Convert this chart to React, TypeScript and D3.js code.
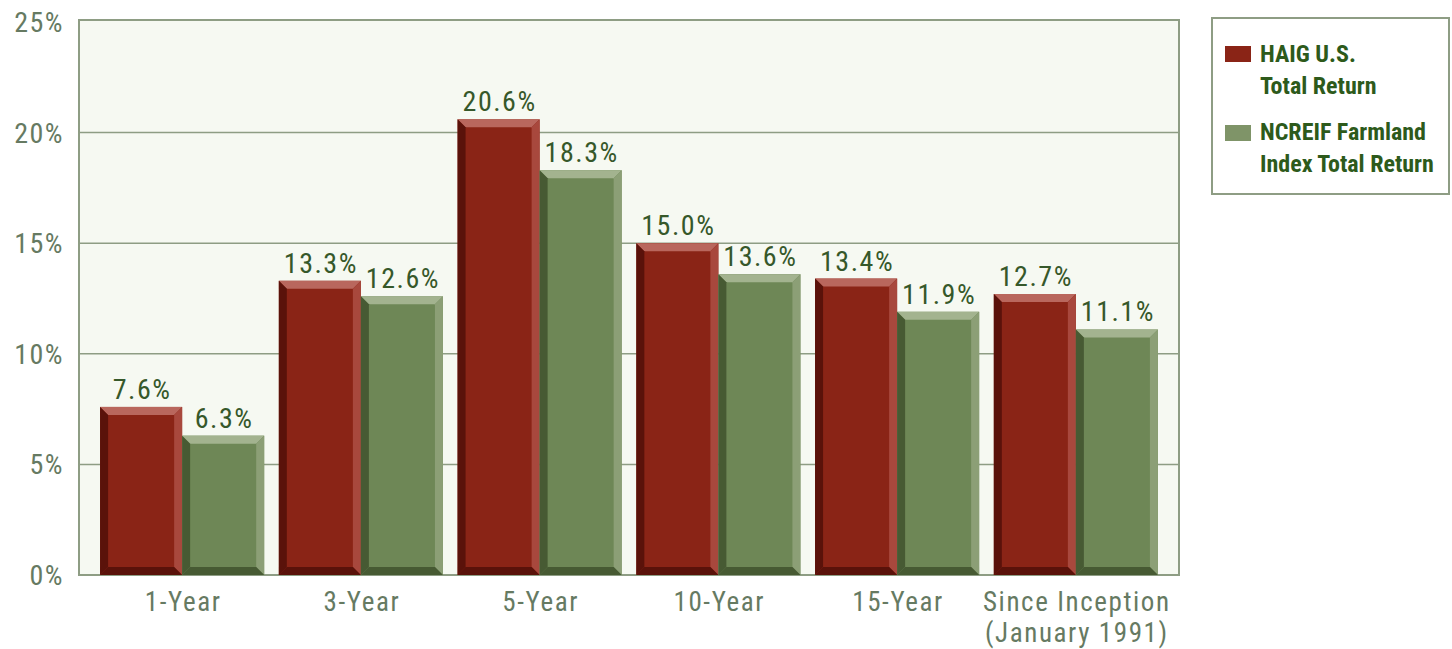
import React from "react";
import * as d3 from "d3";

const categories = ["1-Year", "3-Year", "5-Year", "10-Year", "15-Year", "Since Inception\n(January 1991)"];
const seriesNames = ["HAIG U.S.\nTotal Return", "NCREIF Farmland\nIndex Total Return"];
const haigValues = [7.6, 13.3, 20.6, 15.0, 13.4, 12.7];
const ncreifValues = [6.3, 12.6, 18.3, 13.6, 11.9, 11.1];
const yTicks = [0, 5, 10, 15, 20, 25];

const W = 1452, H = 649;
const M = { left: 79, right: 1179, top: 20, bottom: 575 };
const FONT = "'Liberation Sans Narrow', 'Arial Narrow', 'Roboto Condensed', Roboto, sans-serif";

const palettes = [
  { fill: "#8a2416", light: "#b9675d", dark: "#5a120a", lightSide: "#a8483d" },
  { fill: "#6e8756", light: "#a3b38f", dark: "#475a33", lightSide: "#8c9f76" },
];

function BevelBar({ x, y, w, h, p }: any) {
  const b = Math.min(8, h / 2);
  const x0 = x, x1 = x + w, y0 = y, y1 = y + h;
  const pts = (a: number[][]) => a.map((q) => q.join(",")).join(" ");
  return (
    <g>
      <rect x={x0} y={y0} width={w} height={h} fill={p.fill} />
      <polygon points={pts([[x0, y0], [x1, y0], [x1 - b, y0 + b], [x0 + b, y0 + b]])} fill={p.light} />
      <polygon points={pts([[x1, y0], [x1, y1], [x1 - b, y1 - b], [x1 - b, y0 + b]])} fill={p.lightSide} />
      <polygon points={pts([[x0, y1], [x1, y1], [x1 - b, y1 - b], [x0 + b, y1 - b]])} fill={p.dark} />
      <polygon points={pts([[x0, y0], [x0 + b, y0 + b], [x0 + b, y1 - b], [x0, y1]])} fill={p.dark} />
    </g>
  );
}

export default function App() {
  const x = d3.scaleBand().domain(categories).range([M.left, M.right]).paddingInner(0.082).paddingOuter(0.118);
  const x1 = d3.scaleBand().domain(["0", "1"]).range([0, x.bandwidth()]).padding(0);
  const y = d3.scaleLinear().domain([0, 25]).range([M.bottom, 22]);
  const series = [haigValues, ncreifValues];

  return (
    <svg width={W} height={H} style={{ position: "absolute", left: 0, top: 0, background: "#fff" }}>
      <rect x={M.left} y={M.top} width={M.right - M.left} height={M.bottom - M.top} fill="#f6f9f2" stroke="#8e9d84" strokeWidth={2} />
      {yTicks.map((t) => (
        <g key={t}>
          {t > 0 && t < 25 && <line x1={M.left} x2={M.right} y1={y(t)} y2={y(t)} stroke="#8e9d84" strokeWidth={1.5} />}
          <text x={64} y={y(t) + 10} textAnchor="end" fontFamily={FONT} fontSize={28} letterSpacing={1.5} fill="#667a62">{t}%</text>
        </g>
      ))}
      {categories.map((c, i) => (
        <g key={c}>
          {series.map((vals, s) => {
            const bx = (x(c) as number) + (x1(String(s)) as number);
            const by = y(vals[i]);
            return (
              <g key={s}>
                <BevelBar x={bx} y={by} w={x1.bandwidth()} h={M.bottom - by} p={palettes[s]} />
                <text x={bx + x1.bandwidth() / 2 + 1} y={by - 8} textAnchor="middle" fontFamily={FONT} fontSize={28} letterSpacing={1.5} fill="#36582a">
                  {vals[i].toFixed(1)}%
                </text>
              </g>
            );
          })}
          {c.split("\n").map((line, k) => (
            <text key={k} x={(x(c) as number) + x.bandwidth() / 2 + 1} y={611 + k * 31} textAnchor="middle" fontFamily={FONT} fontSize={27} letterSpacing={1.6} fill="#667a62">
              {line}
            </text>
          ))}
        </g>
      ))}
      <rect x={1212} y={18} width={237} height={176} fill="#fff" stroke="#8e9d84" strokeWidth={2} />
      {seriesNames.map((name, s) => (
        <g key={s}>
          <rect x={1225} y={46 + s * 79} width={26} height={16} fill={s === 0 ? "#8a2416" : "#7f9468"} />
          {name.split("\n").map((line, k) => (
            <text key={k} x={1260} y={62 + s * 78 + k * 32} fontFamily={FONT} fontWeight="bold" fontSize={24} fill="#2d5a1b">
              {line}
            </text>
          ))}
        </g>
      ))}
    </svg>
  );
}
